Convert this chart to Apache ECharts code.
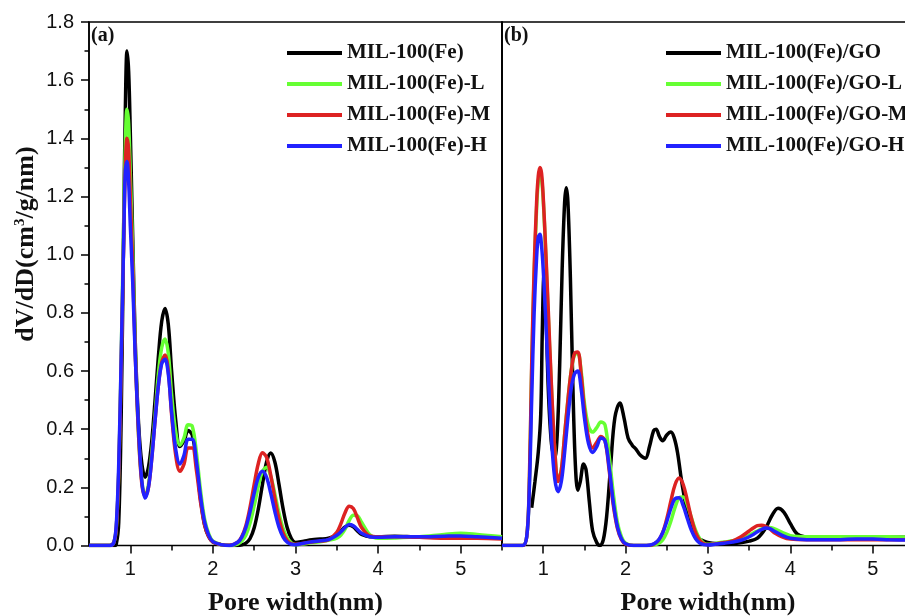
<!DOCTYPE html>
<html><head><meta charset="utf-8">
<script src="https://cdn.jsdelivr.net/npm/echarts@6/dist/echarts.min.js"></script>
<style>html,body{margin:0;padding:0;background:#fff}#c{width:905px;height:616px}</style>
</head><body><div id="c"></div>
<script>
// ---------- data ----------
const poreWidth = [0.5,0.75,0.8,0.83,0.86,0.89,0.92,0.94,0.96,0.98,1.0,1.03,1.06,1.1,1.14,1.18,1.22,1.26,1.3,1.34,1.38,1.42,1.46,1.5,1.55,1.6,1.65,1.7,1.75,1.8,1.85,1.9,1.95,2.0,2.1,2.2,2.3,2.35,2.4,2.45,2.5,2.55,2.6,2.65,2.7,2.75,2.8,2.85,2.9,2.95,3.0,3.1,3.2,3.3,3.4,3.5,3.55,3.6,3.65,3.7,3.75,3.8,3.9,4.0,4.2,4.5,4.8,5.0,5.2,5.5];

const fe  = [0,0,0,0.005,0.08,0.45,1.1,1.5,1.70,1.63,1.42,1.05,0.7,0.42,0.28,0.235,0.27,0.36,0.5,0.65,0.77,0.815,0.76,0.6,0.43,0.34,0.36,0.395,0.38,0.29,0.16,0.07,0.03,0.012,0.003,0,0,0.002,0.008,0.024,0.061,0.126,0.21,0.287,0.318,0.287,0.21,0.126,0.061,0.024,0.01,0.015,0.02,0.022,0.025,0.037,0.05,0.064,0.07,0.064,0.05,0.038,0.03,0.03,0.032,0.03,0.03,0.03,0.03,0.028];
const feL = [0,0,0.01,0.06,0.25,0.65,1.12,1.38,1.50,1.45,1.28,1.0,0.68,0.38,0.22,0.17,0.21,0.32,0.45,0.59,0.68,0.71,0.66,0.52,0.39,0.345,0.37,0.415,0.41,0.32,0.19,0.09,0.04,0.015,0.003,0,0.005,0.015,0.036,0.077,0.137,0.204,0.255,0.269,0.238,0.177,0.111,0.058,0.026,0.009,0.003,0.005,0.01,0.013,0.018,0.025,0.036,0.056,0.086,0.104,0.102,0.08,0.037,0.025,0.026,0.03,0.038,0.042,0.038,0.03];
const feM = [0,0,0.01,0.06,0.25,0.62,1.05,1.3,1.40,1.36,1.2,0.95,0.66,0.38,0.21,0.17,0.2,0.3,0.43,0.55,0.63,0.655,0.6,0.45,0.31,0.255,0.28,0.335,0.335,0.26,0.15,0.07,0.03,0.012,0.003,0.001,0.011,0.031,0.069,0.132,0.21,0.282,0.319,0.303,0.242,0.162,0.092,0.043,0.017,0.006,0.004,0.008,0.012,0.015,0.02,0.045,0.075,0.113,0.135,0.127,0.095,0.062,0.033,0.03,0.03,0.028,0.025,0.025,0.025,0.022];
const feH = [0,0,0.01,0.07,0.28,0.65,1.05,1.29,1.32,1.25,1.1,0.9,0.65,0.4,0.22,0.163,0.2,0.3,0.43,0.55,0.625,0.64,0.59,0.46,0.33,0.28,0.31,0.365,0.365,0.29,0.17,0.08,0.035,0.013,0.003,0,0.011,0.029,0.063,0.117,0.18,0.234,0.255,0.234,0.18,0.117,0.063,0.029,0.011,0.004,0.003,0.008,0.013,0.016,0.02,0.035,0.047,0.062,0.072,0.068,0.055,0.042,0.03,0.028,0.03,0.03,0.032,0.033,0.03,0.025];

const goL = [0,0,0.03,0.19,0.6,0.93,1.16,1.25,1.28,1.26,1.19,1.01,0.8,0.54,0.33,0.225,0.26,0.38,0.5,0.6,0.655,0.66,0.6,0.49,0.41,0.39,0.405,0.425,0.415,0.31,0.18,0.08,0.03,0.008,0,0,0,0.002,0.007,0.019,0.045,0.084,0.131,0.164,0.167,0.139,0.094,0.052,0.023,0.008,0.004,0.008,0.012,0.016,0.022,0.035,0.043,0.05,0.057,0.061,0.062,0.058,0.045,0.034,0.03,0.03,0.03,0.03,0.03,0.028];
const goM = [0,0,0.03,0.2,0.62,0.95,1.18,1.27,1.30,1.28,1.2,1.02,0.82,0.55,0.33,0.22,0.26,0.38,0.5,0.6,0.66,0.665,0.59,0.47,0.37,0.335,0.355,0.375,0.36,0.26,0.14,0.06,0.02,0.005,0,0,0.001,0.006,0.018,0.044,0.092,0.153,0.209,0.232,0.209,0.153,0.092,0.044,0.018,0.006,0.003,0.006,0.01,0.016,0.03,0.05,0.06,0.068,0.07,0.066,0.057,0.045,0.03,0.022,0.02,0.02,0.02,0.02,0.02,0.02];
const goH = [0,0,0.03,0.18,0.5,0.8,0.99,1.06,1.07,1.03,0.95,0.78,0.6,0.37,0.23,0.185,0.22,0.32,0.44,0.54,0.59,0.6,0.54,0.44,0.35,0.32,0.34,0.37,0.36,0.27,0.15,0.065,0.022,0.006,0,0,0.002,0.007,0.019,0.044,0.083,0.128,0.161,0.164,0.136,0.092,0.051,0.023,0.008,0.003,0.002,0.005,0.008,0.012,0.018,0.03,0.038,0.047,0.055,0.06,0.058,0.05,0.035,0.025,0.02,0.02,0.022,0.022,0.02,0.018];

const poreWidthGO = [0.86,0.9,0.94,0.97,0.99,1.01,1.03,1.06,1.1,1.14,1.17,1.2,1.23,1.26,1.28,1.3,1.33,1.36,1.39,1.42,1.45,1.49,1.52,1.56,1.6,1.65,1.69,1.73,1.77,1.82,1.87,1.93,1.98,2.03,2.08,2.13,2.18,2.24,2.29,2.34,2.37,2.41,2.45,2.5,2.55,2.59,2.63,2.67,2.71,2.75,2.8,2.87,2.95,3.05,3.2,3.35,3.5,3.6,3.7,3.78,3.85,3.92,4.0,4.08,4.17,4.3,4.6,5.0,5.5];
const go = [0.13,0.22,0.32,0.45,0.75,0.93,0.85,0.55,0.35,0.3,0.38,0.62,0.95,1.18,1.23,1.18,0.92,0.55,0.28,0.19,0.22,0.28,0.26,0.15,0.05,0.01,0.0,0.02,0.1,0.28,0.44,0.49,0.44,0.37,0.345,0.33,0.31,0.30,0.34,0.395,0.40,0.375,0.36,0.38,0.39,0.37,0.32,0.24,0.17,0.11,0.065,0.03,0.015,0.008,0.006,0.008,0.015,0.025,0.06,0.105,0.128,0.115,0.075,0.04,0.03,0.028,0.028,0.028,0.028];

const namesA = ['MIL-100(Fe)','MIL-100(Fe)-L','MIL-100(Fe)-M','MIL-100(Fe)-H'];
const namesB = ['MIL-100(Fe)/GO','MIL-100(Fe)/GO-L','MIL-100(Fe)/GO-M','MIL-100(Fe)/GO-H'];
const xMajor = [1,2,3,4,5];
const xMinor = [1.5,2.5,3.5,4.5,5.5];
const colors = ['#000000','#66ff33','#dd2222','#2222ff'];

// ---------- chart ----------
const SERIF = '"Liberation Serif","Times New Roman",serif';
const SANS = '"Liberation Sans",Arial,sans-serif';
const pairs = (xs, ys) => xs.map((x, i) => [x, ys[i]]);
const mk = (name, xs, ys, color, gi) => ({
  type: 'line', name, xAxisIndex: gi, yAxisIndex: gi, data: pairs(xs, ys),
  symbol: 'none', showSymbol: false, smooth: 0.35, clip: true,
  lineStyle: { color, width: 3.5 }, itemStyle: { color }
});

const gridBase = { top: 22, height: 523.5, show: true, borderColor: '#000', borderWidth: 1.5,
  backgroundColor: 'transparent', containLabel: false, outerBoundsMode: 'none' };

const mainX = (gi) => ({
  type: 'value', gridIndex: gi, min: 0.5, max: 5.5, position: 'bottom',
  axisLine: { show: false }, splitLine: { show: false },
  axisTick: { show: true, customValues: xMajor, length: 8, lineStyle: { color: '#000', width: 1.5 } },
  axisLabel: { show: true, customValues: xMajor, fontSize: 20, fontFamily: SANS, color: '#111', margin: 14 },
  name: 'Pore width(nm)', nameLocation: 'middle', nameGap: 45,
  nameTextStyle: { fontFamily: SERIF, fontWeight: 'bold', fontSize: 26, color: '#111' }
});
const minorX = (gi) => ({
  type: 'value', gridIndex: gi, min: 0.5, max: 5.5, position: 'bottom',
  axisLine: { show: false }, splitLine: { show: false },
  axisTick: { show: true, customValues: xMinor, length: 5, lineStyle: { color: '#000', width: 1.5 } },
  axisLabel: { show: false }
});

const legendBase = { orient: 'vertical', top: 42, padding: 0, icon: 'rect', itemWidth: 55, itemHeight: 4, itemGap: 9,
  textStyle: { fontFamily: SERIF, fontWeight: 'bold', fontSize: 21, lineHeight: 22, color: '#111' } };

const option = {
  animation: false,
  backgroundColor: '#fff',
  grid: [
    Object.assign({ left: 89, width: 413 }, gridBase),
    Object.assign({ left: 502, width: 412 }, gridBase)
  ],
  xAxis: [mainX(0), mainX(1), minorX(0), minorX(1)],
  yAxis: [
    { type: 'value', gridIndex: 0, min: 0, max: 1.8, interval: 0.2,
      axisLine: { show: true, lineStyle: { color: '#000', width: 1.5 } },
      axisTick: { show: true, length: 8, lineStyle: { color: '#000', width: 1.5 } },
      minorTick: { show: true, splitNumber: 2, length: 4.5, lineStyle: { color: '#000', width: 1.5 } },
      splitLine: { show: false },
      axisLabel: { formatter: v => v.toFixed(1), fontSize: 20, fontFamily: SANS, color: '#111', margin: 15 } },
    { type: 'value', gridIndex: 1, min: 0, max: 1.8, interval: 0.2,
      axisLine: { show: true, lineStyle: { color: '#000', width: 1.5 } },
      axisTick: { show: false }, axisLabel: { show: false }, splitLine: { show: false } }
  ],
  legend: [
    Object.assign({ data: namesA, left: 287 }, legendBase),
    Object.assign({ data: namesB, left: 666 }, legendBase)
  ],
  graphic: [
    { type: 'text', left: 91, top: 26, style: { text: '(a)', fontFamily: SERIF, fontWeight: 'bold', fontSize: 20, fill: '#111' } },
    { type: 'text', left: 504, top: 26, style: { text: '(b)', fontFamily: SERIF, fontWeight: 'bold', fontSize: 20, fill: '#111' } },
    { type: 'text', x: 26, y: 244, rotation: Math.PI / 2,
      style: { text: '{b|dV/dD(cm}{s|3}{b|/g/nm)}', align: 'center', verticalAlign: 'middle',
        rich: { b: { fontFamily: SERIF, fontWeight: 'bold', fontSize: 26, fill: '#111', color: '#111' },
                s: { fontFamily: SERIF, fontWeight: 'bold', fontSize: 15, fill: '#111', color: '#111', verticalAlign: 'top', lineHeight: 22 } } } }
  ],
  series: [
    mk(namesA[0], poreWidth, fe,  colors[0], 0),
    mk(namesA[1], poreWidth, feL, colors[1], 0),
    mk(namesA[2], poreWidth, feM, colors[2], 0),
    mk(namesA[3], poreWidth, feH, colors[3], 0),
    mk(namesB[0], poreWidthGO, go, colors[0], 1),
    mk(namesB[1], poreWidth, goL, colors[1], 1),
    mk(namesB[2], poreWidth, goM, colors[2], 1),
    mk(namesB[3], poreWidth, goH, colors[3], 1)
  ]
};
const chart = echarts.init(document.getElementById('c'), null, { renderer: 'canvas' });
chart.setOption(option);
</script>
</body></html>
